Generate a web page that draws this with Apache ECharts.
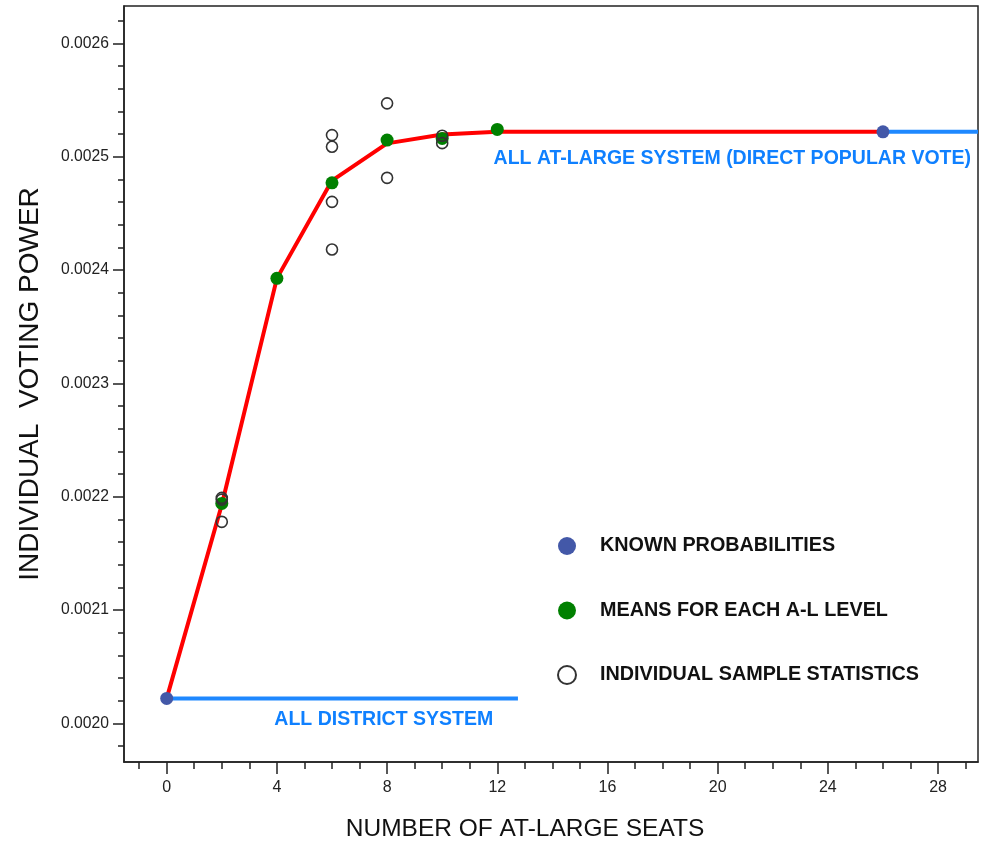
<!DOCTYPE html>
<html><head><meta charset="utf-8">
<script src="https://cdn.jsdelivr.net/npm/echarts@6/dist/echarts.min.js"></script>
<style>html,body{margin:0;padding:0;background:#fff}#c{width:982px;height:845px}</style>
</head><body><div id="c"></div>
<script>
// ---- data ----
const knownSeats = [0, 26];
const knownPower = [0.0020221, 0.0025220];
const meanSeats = [2, 4, 6, 8, 10, 12];
const meanPower = [0.0021941, 0.0023927, 0.0024770, 0.0025147, 0.0025162, 0.0025241];
const sampleSeats = [2, 2, 2, 6, 6, 6, 6, 8, 8, 10, 10];
const samplePower = [0.0021990, 0.0021975, 0.0021779, 0.0025191, 0.0025088, 0.0024602, 0.0024182, 0.0025471, 0.0024814, 0.0025185, 0.0025120];
const curveSeats = [0, 2, 4, 6, 8, 10, 12, 26];
const curvePower = [0.0020221, 0.0021930, 0.0023927, 0.0024790, 0.0025118, 0.0025197, 0.0025220, 0.0025220];
const districtSeats = [0, 12.75];
const districtPower = [0.0020221, 0.0020221];
const atLargeSeats = [26, 29.45];
const atLargePower = [0.0025220, 0.0025220];
const annotationText = ['ALL DISTRICT SYSTEM', 'ALL AT-LARGE SYSTEM (DIRECT POPULAR VOTE)'];
const annotationSeats = [7.88, 20.53];
const annotationPower = [0.0020035, 0.0024985];
const xTickLabels = [0, 4, 8, 12, 16, 20, 24, 28];
const yTickLabels = [0.0020, 0.0021, 0.0022, 0.0023, 0.0024, 0.0025, 0.0026];
const seriesNames = ['KNOWN PROBABILITIES', 'MEANS FOR EACH A-L LEVEL', 'INDIVIDUAL SAMPLE STATISTICS'];

const xMin = -1.55, xMax = 29.45, yMin = 0.001966, yMax = 0.002633;
const xMinor = []; for (let k = -1; k <= 29; k++) if (k % 4 !== 0) xMinor.push(k);
const yMinor = []; for (let k = 98; k <= 131; k++) if (k % 5 !== 0) yMinor.push(+(k * 0.00002).toFixed(6));

const zip = (a, b) => a.map((v, i) => [v, b[i]]);
const font = '"Liberation Sans", Arial, sans-serif';
const blue = '#1E88FF';

const chart = echarts.init(document.getElementById('c'), null, {renderer: 'canvas'});
chart.setOption({
  animation: false,
  backgroundColor: '#fff',
  grid: {left: 124, top: 6, right: 4, bottom: 83, show: true, borderColor: '#222', borderWidth: 1.5,
    outerBoundsMode: 'none', containLabel: false},
  xAxis: [{
    type: 'value', min: xMin, max: xMax,
    name: 'NUMBER OF AT-LARGE SEATS', nameLocation: 'middle', nameGap: 55,
    nameTextStyle: {fontFamily: font, fontSize: 24.5, color: '#111', padding: [0, 52, 0, 0]},
    axisLine: {show: true, onZero: false, lineStyle: {color: '#222', width: 1.5}},
    axisTick: {show: true, length: 12, customValues: xTickLabels, lineStyle: {color: '#222', width: 1.5}},
    axisLabel: {customValues: xTickLabels, margin: 18, fontFamily: font, fontSize: 16, color: '#222'},
    splitLine: {show: false}
  }, {
    type: 'value', min: xMin, max: xMax, position: 'bottom',
    axisLine: {show: false, onZero: false}, axisLabel: {show: false}, splitLine: {show: false},
    axisTick: {show: true, length: 7, customValues: xMinor, lineStyle: {color: '#222', width: 1.5}}
  }],
  yAxis: [{
    type: 'value', min: yMin, max: yMax,
    name: 'INDIVIDUAL  VOTING POWER', nameLocation: 'middle', nameGap: 80,
    nameTextStyle: {fontFamily: font, fontSize: 28, color: '#111'},
    axisLine: {show: true, onZero: false, lineStyle: {color: '#222', width: 1.5}},
    axisTick: {show: true, length: 11, customValues: yTickLabels, lineStyle: {color: '#222', width: 1.5}},
    axisLabel: {customValues: yTickLabels, margin: 15, fontFamily: font, fontSize: 15.7, color: '#222',
      formatter: v => v.toFixed(4)},
    splitLine: {show: false}
  }, {
    type: 'value', min: yMin, max: yMax, position: 'left',
    axisLine: {show: false, onZero: false}, axisLabel: {show: false}, splitLine: {show: false},
    axisTick: {show: true, length: 6, customValues: yMinor, lineStyle: {color: '#222', width: 1.5}}
  }],
  legend: {
    data: seriesNames, orient: 'vertical', left: 552, top: 531, itemGap: 44.5,
    itemWidth: 18, itemHeight: 18, icon: 'circle',
    textStyle: {fontFamily: font, fontWeight: 'bold', fontSize: 19.8, color: '#111', padding: [0, 0, 0, 19]}
  },
  series: [
    {type: 'line', data: zip(curveSeats, curvePower), symbol: 'none', z: 2,
      lineStyle: {color: '#FF0000', width: 4}},
    {type: 'line', data: zip(districtSeats, districtPower), symbol: 'none', z: 1,
      lineStyle: {color: blue, width: 4}},
    {type: 'line', data: zip(atLargeSeats, atLargePower), symbol: 'none', z: 1,
      lineStyle: {color: blue, width: 4}},
    {name: seriesNames[1], type: 'scatter', data: zip(meanSeats, meanPower), symbol: 'circle', symbolSize: 13, z: 3,
      itemStyle: {color: '#008000', opacity: 1}},
    {name: seriesNames[2], type: 'scatter', data: zip(sampleSeats, samplePower), symbol: 'circle', symbolSize: 11, z: 4,
      itemStyle: {color: 'rgba(255,255,255,0)', borderColor: '#333', borderWidth: 1.6, opacity: 1}},
    {name: seriesNames[0], type: 'scatter', data: zip(knownSeats, knownPower), symbol: 'circle', symbolSize: 13, z: 5,
      itemStyle: {color: '#4358A8', opacity: 1}},
    {type: 'scatter', symbolSize: 0, z: 6, silent: true,
      data: annotationText.map((t, i) => ({name: t, value: [annotationSeats[i], annotationPower[i]]})),
      label: {show: true, position: 'inside', formatter: p => p.name, fontFamily: font, fontWeight: 'bold',
        fontSize: 19.5, color: '#0F80FF', textBorderWidth: 0, opacity: 1}}
  ]
});
</script></body></html>
